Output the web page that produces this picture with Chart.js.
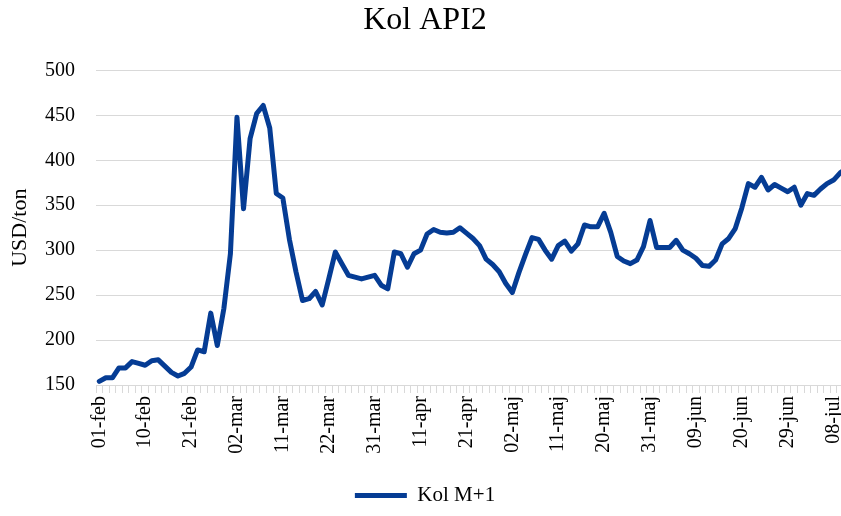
<!DOCTYPE html>
<html>
<head>
<meta charset="utf-8">
<script src="https://cdn.jsdelivr.net/npm/chart.js@4"></script>
<style>
  html, body { margin: 0; padding: 0; background: #fff; overflow: hidden; }
  .chart__container { width: 852px; height: 516px; }
</style>
</head>
<body>
<div class="chart__container">
  <canvas id="myChart"></canvas>
</div>
<script>
// trading days, feb - jul
const dates = [
  '01-feb','02-feb','03-feb','04-feb','07-feb','08-feb','09-feb','10-feb','11-feb','14-feb',
  '15-feb','16-feb','17-feb','18-feb','21-feb','22-feb','23-feb','24-feb','25-feb','28-feb',
  '01-mar','02-mar','03-mar','04-mar','07-mar','08-mar','09-mar','10-mar','11-mar','14-mar',
  '15-mar','16-mar','17-mar','18-mar','21-mar','22-mar','23-mar','24-mar','25-mar','28-mar',
  '29-mar','30-mar','31-mar','01-apr','04-apr','05-apr','06-apr','07-apr','08-apr','11-apr',
  '12-apr','13-apr','14-apr','18-apr','19-apr','20-apr','21-apr','22-apr','25-apr','26-apr',
  '27-apr','28-apr','29-apr','02-maj','03-maj','04-maj','05-maj','06-maj','09-maj','10-maj',
  '11-maj','12-maj','13-maj','16-maj','17-maj','18-maj','19-maj','20-maj','23-maj','24-maj',
  '25-maj','26-maj','27-maj','30-maj','31-maj','01-jun','02-jun','03-jun','06-jun','07-jun',
  '08-jun','09-jun','10-jun','13-jun','14-jun','15-jun','16-jun','17-jun','20-jun','21-jun',
  '22-jun','23-jun','24-jun','27-jun','28-jun','29-jun','30-jun','01-jul','04-jul','05-jul',
  '06-jul','07-jul','08-jul','11-jul','12-jul'
];

const kolM1 = [
  154, 158, 158, 169, 169, 176, 174, 172, 177, 178,
  171, 164, 160, 163, 170, 189, 187, 230, 194, 235,
  296, 448, 346, 424, 452, 461, 436, 363, 358, 312,
  276, 244, 246, 254, 239, 268, 298, 285, 272, 270,
  268, 270, 272, 261, 257, 298, 296, 281, 296, 300,
  318, 323, 320, 319, 320, 325, 319, 313, 305, 290,
  284, 276, 263, 253, 275, 295, 314, 312, 300, 290,
  305, 310, 299, 307, 328, 326, 326, 341, 320, 293,
  288, 285, 289, 304, 333, 303, 303, 303, 311, 300,
  296, 291, 283, 282, 289, 307, 313, 324, 347, 374,
  370, 381, 367, 373, 369, 365, 370, 350, 363, 361,
  368, 374, 378, 386, 391
];

const yTicks = { min: 150, max: 500, step: 50 };
const labelEvery = 7;

const ctx = document.getElementById('myChart');
const serif = 'Liberation Serif, Times New Roman, serif';
const gridColor = '#d9d9d9';

let schedule = new Chart(ctx, {
  type: 'line',
  data: {
    labels: dates,
    datasets: [{
      label: 'Kol M+1',
      data: kolM1,
      borderColor: '#053c94',
      backgroundColor: '#053c94',
      borderWidth: 5,
      borderJoinStyle: 'round',
      borderCapStyle: 'round',
      pointRadius: 0,
      tension: 0,
      fill: false
    }]
  },
  options: {
    responsive: true,
    maintainAspectRatio: false,
    animation: false,
    layout: {
      padding: { left: 0, right: 2, top: 0, bottom: 0 }
    },
    scales: {
      x: {
        offset: true,
        grid: {
          drawOnChartArea: false,
          drawTicks: true,
          tickLength: 8,
          color: gridColor,
          offset: true
        },
        border: { display: true, color: gridColor },
        ticks: {
          autoSkip: false,
          minRotation: 90,
          maxRotation: 90,
          padding: 3,
          color: '#000',
          font: { family: serif, size: 20 },
          callback: function(value, index) {
            return index % labelEvery === 0 ? dates[index] : '';
          }
        },
        afterFit(scale) {
          scale.height = 94;
          scale.paddingLeft = 0;
          scale.paddingRight = 0;
        }
      },
      y: {
        min: yTicks.min,
        max: yTicks.max,
        ticks: {
          stepSize: yTicks.step,
          padding: 21,
          color: '#000',
          font: { family: serif, size: 20 }
        },
        grid: { color: gridColor, drawTicks: false },
        border: { display: false },
        title: {
          display: true,
          text: 'USD/ton',
          color: '#000',
          font: { family: serif, size: 22 },
          padding: { top: 7, bottom: 0 }
        },
        afterFit(scale) {
          scale.width = 96;
        }
      }
    },
    plugins: {
      title: {
        display: true,
        text: 'Kol API2',
        color: '#000',
        font: { family: serif, size: 32, weight: 'normal' },
        padding: { top: 1, bottom: 31 }
      },
      legend: {
        position: 'bottom',
        labels: {
          usePointStyle: true,
          pointStyle: 'line',
          pointStyleWidth: 52,
          boxHeight: 21,
          padding: 6,
          color: '#000',
          font: { family: serif, size: 21 }
        }
      },
      tooltip: { enabled: false }
    }
  }
});
</script>
</body>
</html>
